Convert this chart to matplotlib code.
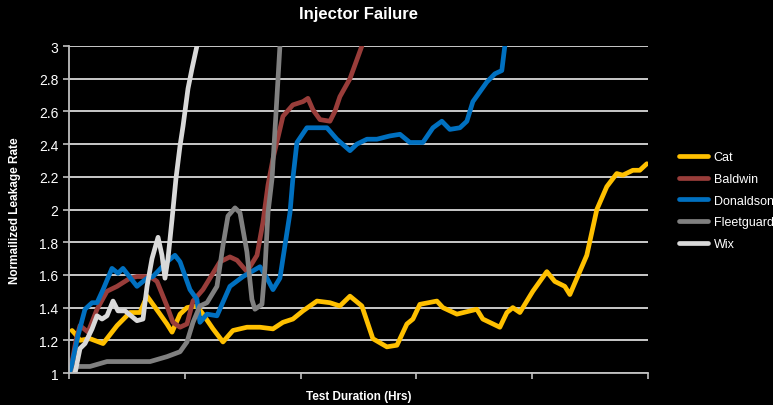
import matplotlib
matplotlib.use('Agg')
import matplotlib.pyplot as plt
import numpy as np

plt.rcParams['font.family'] = ['Liberation Sans', 'DejaVu Sans']

# test duration (hrs) / normalized leakage rate
cat_x = [2.6, 5.2, 9.5, 18.1, 29.4, 41.5, 52.7, 61.3, 67.4, 78.6, 84.6, 89, 95.9, 101.9,
         110.5, 115.7, 124.4, 133, 141.6, 153.7, 165, 176.2, 184.8, 193.4, 202.1, 214.2,
         225.4, 234, 242.7, 253, 262.5, 274.6, 283.3, 291.9, 297.1, 303.1, 317.8, 323,
         335.1, 352.3, 357.5, 372.2, 378.3, 383.4, 389.5, 400.7, 412.8, 419.7, 428.3,
         432.7, 447.3, 456, 464.6, 473.2, 478.4, 487.1, 493.1, 499.2]
cat_y = [1.26, 1.24, 1.20, 1.21, 1.18, 1.29, 1.37, 1.37, 1.47, 1.36, 1.30, 1.25, 1.36, 1.40,
         1.41, 1.36, 1.27, 1.19, 1.26, 1.28, 1.28, 1.27, 1.31, 1.33, 1.38, 1.44,
         1.43, 1.41, 1.47, 1.41, 1.21, 1.16, 1.17, 1.30, 1.33, 1.42, 1.44, 1.40,
         1.36, 1.39, 1.33, 1.28, 1.37, 1.40, 1.37, 1.50, 1.62, 1.56, 1.53,
         1.48, 1.72, 2.00, 2.14, 2.22, 2.21, 2.24, 2.24, 2.28]

baldwin_x = [0.9, 6, 9.5, 16.4, 24.2, 32.8, 41.5, 52.7, 58.7, 70, 76, 84.6, 89.8, 95.9,
             101.9, 107.1, 115.7, 130.4, 139, 145.1, 153.7, 162.4, 167.5, 171.9, 176.2,
             184.8, 193.4, 202.1, 206.4, 210.7, 216.8, 225.4, 229.7, 234, 242.7, 253]
baldwin_y = [1.0, 1.20, 1.29, 1.25, 1.39, 1.50, 1.53, 1.58, 1.59, 1.59, 1.56, 1.41, 1.31, 1.28,
             1.30, 1.44, 1.51, 1.68, 1.71, 1.69, 1.62, 1.72, 1.92, 2.15, 2.31,
             2.57, 2.64, 2.66, 2.68, 2.61, 2.55, 2.54, 2.60, 2.69, 2.80, 3.0]

donaldson_x = [0.9, 7.8, 13.8, 19.9, 24.2, 29.4, 37.1, 42.3, 46.6, 58.7, 67.4, 72.5, 84.6,
               91.5, 95.9, 104.5, 110.5, 113.1, 119.2, 127.8, 139, 150.3, 165, 171, 176.2,
               182.2, 190.9, 193.4, 196.9, 205.5, 222.8, 231.4, 242.7, 248.7, 257.4, 266,
               277.2, 285.9, 294.5, 305.7, 314.4, 322.1, 329, 337.7, 343.7, 348.9, 361,
               367.9, 373.9, 376.5]
donaldson_y = [1.0, 1.23, 1.39, 1.43, 1.43, 1.51, 1.64, 1.61, 1.64, 1.53, 1.58, 1.59, 1.68,
               1.72, 1.68, 1.51, 1.45, 1.31, 1.36, 1.35, 1.53, 1.59, 1.65, 1.58, 1.51,
               1.58, 1.98, 2.19, 2.41, 2.50, 2.50, 2.43, 2.36, 2.40, 2.43, 2.43,
               2.45, 2.46, 2.41, 2.41, 2.50, 2.54, 2.49, 2.50, 2.54, 2.66, 2.78,
               2.83, 2.85, 3.0]

fleet_x = [4.3, 6.9, 12.1, 18.1, 32.8, 70, 84.6, 95.9, 101.9, 107.1, 113.1, 119.2, 127.8,
           133, 137.3, 143.4, 147.7, 153.7, 158, 160.6, 166.7, 169.3, 171.9, 175.4, 178.9,
           182.2]
fleet_y = [1.0, 1.04, 1.04, 1.04, 1.07, 1.07, 1.10, 1.13, 1.19, 1.31, 1.41, 1.43, 1.53,
           1.78, 1.96, 2.01, 1.98, 1.74, 1.45, 1.39, 1.42, 1.64, 1.98, 2.19, 2.60,
           3.0]

wix_x = [5.2, 9.5, 13.8, 19.9, 24.2, 28.5, 32.8, 38, 42.3, 48.4, 58.7, 63.9, 67.4, 71.7,
         76.9, 80.3, 82.9, 85.5, 89, 92.4, 95.9, 98.5, 102.8, 106.2, 110.5]
wix_y = [1.0, 1.15, 1.18, 1.27, 1.35, 1.33, 1.35, 1.44, 1.38, 1.38, 1.32, 1.33, 1.53, 1.70,
         1.83, 1.72, 1.58, 1.70, 1.94, 2.19, 2.39, 2.51, 2.74, 2.86, 3.0]

series = [
    ('Cat', cat_x, cat_y, '#FFC000'),
    ('Baldwin', baldwin_x, baldwin_y, '#993D3A'),
    ('Donaldson', donaldson_x, donaldson_y, '#0070C0'),
    ('Fleetguard', fleet_x, fleet_y, '#808080'),
    ('Wix', wix_x, wix_y, '#D9D9D9'),
]

fig = plt.figure(figsize=(7.73, 4.06), dpi=100, facecolor='black')
ax = fig.add_axes([0.0893, 0.0788, 0.7487, 0.8054])
ax.set_facecolor('black')

for name, xs, ys, col in series:
    ax.plot(xs, ys, color=col, lw=3.4, label=name,
            solid_joinstyle='round', solid_capstyle='round', clip_on=True)

ax.set_xlim(0, 500)
ax.set_ylim(1, 3)
ax.set_yticks(np.arange(1, 3.01, 0.2))
ax.set_yticklabels(['1', '1.2', '1.4', '1.6', '1.8', '2', '2.2', '2.4', '2.6', '2.8', '3'])
ax.set_xticks(np.arange(0, 501, 100))
ax.set_xticklabels([])
ax.yaxis.grid(True, color='#D9D9D9', lw=1.3)
ax.set_axisbelow(True)

for s in ['top', 'right']:
    ax.spines[s].set_visible(False)
for s in ['left', 'bottom']:
    ax.spines[s].set_color('#BFBFBF')
    ax.spines[s].set_linewidth(1.3)
ax.tick_params(axis='y', colors='#BFBFBF', labelcolor='white', labelsize=10, length=4, width=1.2)
ax.tick_params(axis='x', colors='#BFBFBF', length=4, width=1.2)

ax.set_title('Injector Failure', color='white', fontsize=12, fontweight='bold', pad=20)
ax.set_ylabel('Normailized Leakage Rate', color='white', fontsize=8.5, fontweight='bold', labelpad=13)
ax.set_xlabel('Test Duration (Hrs)', color='white', fontsize=8.5, fontweight='bold', labelpad=5)

leg = ax.legend(loc='center left', bbox_to_anchor=(1.035, 0.527), frameon=False,
                fontsize=9, handlelength=2.3, labelspacing=0.78, handletextpad=0.45)
for t in leg.get_texts():
    t.set_color('white')

fig.savefig('out.png', dpi=100, facecolor='black')
